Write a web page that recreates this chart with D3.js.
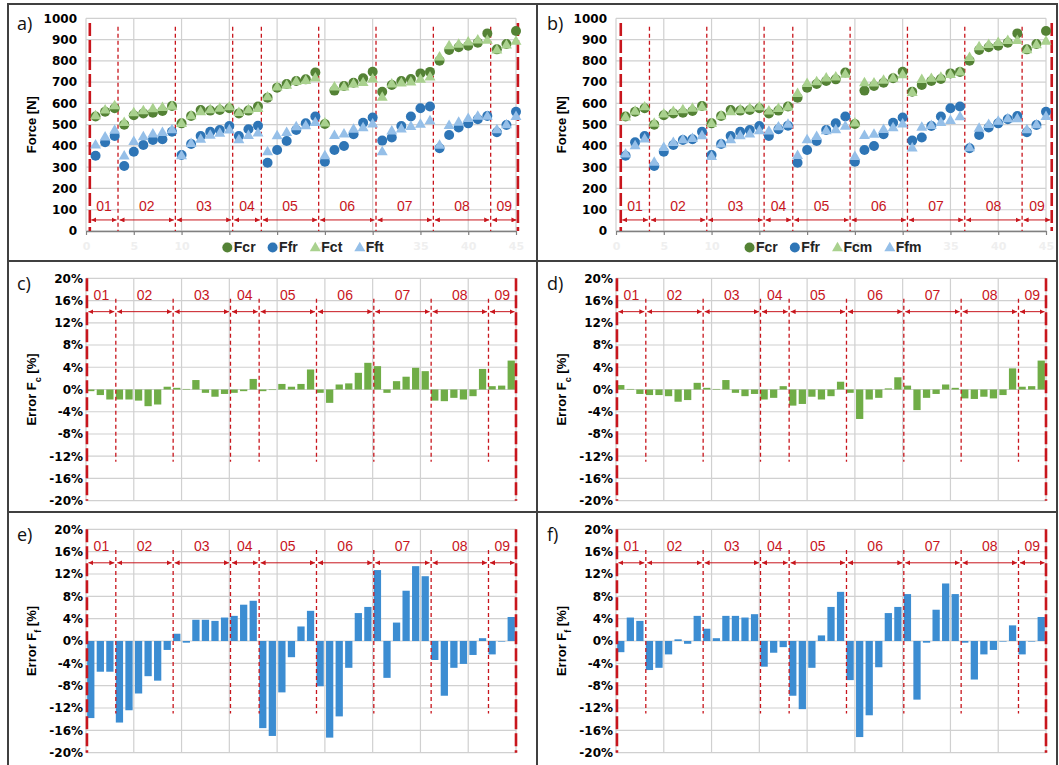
<!DOCTYPE html>
<html><head><meta charset="utf-8">
<script src="https://cdn.jsdelivr.net/npm/d3@7"></script>
<style>body{margin:0;background:#fff}</style>
</head><body>
<svg id="chart" width="1059" height="765"></svg>
<script>
// ---------------- DATA ----------------
const groupLabels = ["01","02","03","04","05","06","07","08","09"];
const groupBounds = [0,3,9,15,18,24,30,36,42,45];
const specimen = d3.range(1,46);
const xTicks = [0,5,10,15,20,25,30,35,40,45];
const forceTicks = [0,100,200,300,400,500,600,700,800,900,1000];
const errorTicks = [-20,-16,-12,-8,-4,0,4,8,12,16,20];

const Fcr = [538,561,577,500,544,553,556,564,588, 506,541,569,566,569,577,553,566,585, 627,674,691,705,713,745,503,660,682, 697,718,749,655,686,705,715,741,748, 801,851,864,871,885,929,854,879,940];
const Ffr = [354,417,447,306,373,404,428,431,467, 357,409,447,467,475,494,447,478,495, 321,381,423,475,506,538,326,381,400, 455,509,534,425,440,494,538,577,585, 389,451,487,506,525,541,464,498,561];
const Fct = [540,567,587,509,554,564,573,579,585, 504,540,559,569,576,582,556,568,574, 629,675,684,701,706,718,506,676,676, 689,696,713,627,690,694,699,712,723, 817,869,877,887,896,895,849,873,891];
const Fft = [403,440,472,351,419,442,455,462,474, 352,410,430,449,458,473,427,447,459, 371,446,462,489,493,509,352,447,454, 477,484,501,371,469,478,490,500,517, 402,495,510,527,538,538,475,498,537];
const Fcm = [534,561,582,505,549,560,568,575,581, 504,540,559,569,576,582,563,574,581, 645,692,700,718,722,735,506,695,694, 707,717,733,650,711,716,721,734,746, 814,865,875,885,894,894,850,874,891];
const Ffm = [361,399,431,322,391,414,427,433,446, 349,407,427,446,455,470,468,488,500, 353,427,443,470,475,491,349,447,453, 476,484,501,389,486,495,508,518,536, 390,482,499,514,526,526,475,498,537];

const errFcT = [-0.3,-1.0,-1.8,-1.8,-1.8,-2.0,-3.0,-2.7,0.5, 0.3,0.1,1.7,-0.6,-1.3,-0.8,-0.6,-0.3,1.9, -0.3,-0.1,1.0,0.5,1.0,3.6,-0.6,-2.4,0.9, 1.1,3.0,4.8,4.2,-0.6,1.5,2.3,3.9,3.3, -2.0,-2.1,-1.5,-1.8,-1.2,3.7,0.6,0.7,5.2];
const errFcM = [0.8,0.1,-0.8,-1.0,-1.0,-1.2,-2.2,-1.9,1.2, 0.3,0.1,1.7,-0.6,-1.2,-0.8,-1.8,-1.5,0.6, -2.9,-2.6,-1.3,-1.8,-1.2,1.4,-0.6,-5.3,-1.8, -1.5,0.2,2.2,0.7,-3.7,-1.5,-0.8,0.9,0.3, -1.6,-1.7,-1.3,-1.6,-1.0,3.8,0.5,0.6,5.2];
const errFfT = [-13.8,-5.5,-5.5,-14.6,-12.4,-9.4,-6.3,-7.1,-1.6, 1.3,-0.3,3.8,3.8,3.6,4.2,4.5,6.5,7.2, -15.6,-17.0,-9.2,-2.9,2.6,5.4,-8.1,-17.3,-13.5, -4.8,5.0,6.1,12.7,-6.6,3.3,9.0,13.4,11.6, -3.4,-9.8,-4.8,-4.1,-2.5,0.5,-2.4,-0.1,4.3];
const errFfM = [-2.0,4.2,3.6,-5.2,-4.8,-2.4,0.3,-0.5,4.5, 2.2,0.5,4.5,4.5,4.2,4.8,-4.6,-2.1,-1.1, -9.8,-12.2,-4.8,1.0,6.1,8.8,-7.0,-17.2,-13.3, -4.7,5.0,6.1,8.4,-10.5,-0.3,5.6,10.3,8.4, -0.3,-6.9,-2.4,-1.6,-0.1,2.8,-2.4,-0.1,4.3];

// ---------------- STYLE ----------------
const C = {
  darkGreen:"#548235", blue:"#2e75b6", lightGreen:"#a9d18e", lightBlue:"#95bfe8",
  barGreen:"#70ad47", barBlue:"#3c8dd2", red:"#c8161d", grid:"#d0d0d0", axis:"#808080", border:"#404040"
};
const TICKFONT = "DejaVu Sans, sans-serif";
const FONT = "Liberation Sans, Arial, sans-serif";
const PW = 430;

const svg = d3.select("#chart");
svg.append("rect").attr("width",1059).attr("height",765).attr("fill","#fff");
svg.append("defs").append("marker").attr("id","arr")
  .attr("viewBox","0 0 6 6").attr("refX",6).attr("refY",3)
  .attr("markerWidth",5).attr("markerHeight",5).attr("orient","auto-start-reverse")
  .append("path").attr("d","M0,0L6,3L0,6z").attr("fill",C.red);

// panel borders
const bd = svg.append("g").attr("stroke",C.border).attr("stroke-width",2).attr("fill","none");
bd.append("rect").attr("x",8).attr("y",4).attr("width",1049).attr("height",762);
bd.append("line").attr("x1",8).attr("x2",1057).attr("y1",261).attr("y2",261);
bd.append("line").attr("x1",8).attr("x2",1057).attr("y1",512).attr("y2",512);
bd.append("line").attr("x1",537).attr("x2",537).attr("y1",4).attr("y2",766);

function overlay(g, xLin, y, o){
  const divs = groupBounds.map((b,i)=> i===0 ? o.first : (i===groupBounds.length-1 ? o.last : b+o.off));
  [divs[0], divs[divs.length-1]].forEach(d=>{
    g.append("line").attr("x1",xLin(d)).attr("x2",xLin(d))
      .attr("y1",y(o.thickTop)).attr("y2",y(o.thickBot))
      .attr("stroke",C.red).attr("stroke-width",2.6).attr("stroke-dasharray","13,4");
  });
  divs.slice(1,-1).forEach(d=>{
    g.append("line").attr("x1",xLin(d)).attr("x2",xLin(d))
      .attr("y1",y(o.divTop)).attr("y2",y(o.divBot))
      .attr("stroke",C.red).attr("stroke-width",1.3).attr("stroke-dasharray","4,3");
  });
  groupLabels.forEach((lab,i)=>{
    const a = xLin(divs[i]), b = xLin(divs[i+1]);
    g.append("line").attr("x1",a+1.5).attr("x2",b-1.5).attr("y1",y(o.arrowY)).attr("y2",y(o.arrowY))
      .attr("stroke",C.red).attr("stroke-width",1)
      .attr("marker-start","url(#arr)").attr("marker-end","url(#arr)");
    g.append("text").attr("x",(a+b)/2).attr("y",y(o.labelY)).attr("text-anchor","middle")
      .attr("font-family",FONT).attr("font-size",14).attr("fill",C.red).text(lab);
  });
}

function panelLetter(x, y, t){
  svg.append("text").attr("x",x).attr("y",y).attr("font-family","Open Sans, sans-serif")
    .attr("font-size",18).attr("fill","#111").text(t);
}

function scatterPanel(x0, cSeries, fSeries, names, letter, divOpt){
  const top = 18.3, bot = 231;
  const g = svg.append("g");
  const x = d3.scaleLinear().domain([0,45]).range([x0, x0+PW]);
  const y = d3.scaleLinear().domain([0,1000]).range([bot, top]);
  g.append("g").selectAll("line").data(forceTicks).join("line")
    .attr("x1",x0).attr("x2",x0+PW).attr("y1",d=>y(d)).attr("y2",d=>y(d))
    .attr("stroke",C.grid).attr("stroke-width",1.2);
  g.append("g").selectAll("line").data(xTicks).join("line")
    .attr("x1",d=>x(d)).attr("x2",d=>x(d)).attr("y1",top).attr("y2",bot)
    .attr("stroke",C.grid).attr("stroke-width",1.2);
  const ax = g.append("g").attr("transform",`translate(0,${bot})`)
    .call(d3.axisBottom(x).tickValues(xTicks).tickSize(4).tickSizeOuter(0).tickPadding(7));
  ax.select(".domain").attr("stroke",C.axis).attr("stroke-width",1.5);
  ax.selectAll(".tick line").attr("stroke",C.axis).attr("stroke-width",1.2);
  ax.selectAll("text").attr("fill","#efefef").attr("font-family",TICKFONT).attr("font-weight","bold").attr("font-size",11);
  const ay = g.append("g").attr("transform",`translate(${x0},0)`)
    .call(d3.axisLeft(y).tickValues(forceTicks).tickSize(0).tickPadding(9).tickFormat(d3.format("d")));
  ay.select(".domain").remove();
  ay.selectAll("text").attr("fill","#000").attr("font-family",TICKFONT).attr("font-weight","bold").attr("font-size",12);
  g.append("text").attr("transform",`translate(${x0-50},${(top+bot)/2}) rotate(-90)`)
    .attr("text-anchor","middle").attr("font-family",FONT).attr("font-weight","bold").attr("font-size",13)
    .text("Force [N]");
  overlay(g, x, y, Object.assign({thickTop:978, thickBot:0, divTop:960, divBot:0, arrowY:52, labelY:95}, divOpt));
  const tri = d3.symbol(d3.symbolTriangle, 52);
  g.append("g").selectAll("circle").data(specimen).join("circle")
    .attr("cx",d=>x(d)).attr("cy",(d,i)=>y(Fcr[i])).attr("r",5).attr("fill",C.darkGreen);
  g.append("g").selectAll("circle").data(specimen).join("circle")
    .attr("cx",d=>x(d)).attr("cy",(d,i)=>y(Ffr[i])).attr("r",5).attr("fill",C.blue);
  g.append("g").selectAll("path").data(specimen).join("path")
    .attr("d",tri).attr("transform",(d,i)=>`translate(${x(d)},${y(cSeries[i])})`).attr("fill",C.lightGreen);
  g.append("g").selectAll("path").data(specimen).join("path")
    .attr("d",tri).attr("transform",(d,i)=>`translate(${x(d)},${y(fSeries[i])})`).attr("fill",C.lightBlue);
  const items = [
    {n:names[0], t:"c", c:C.darkGreen},{n:names[1], t:"c", c:C.blue},
    {n:names[2], t:"t", c:C.lightGreen},{n:names[3], t:"t", c:C.lightBlue}];
  const lg = g.append("g");
  let cx = 0; const ly = 252;
  items.forEach(it=>{
    if(it.t==="c") lg.append("circle").attr("cx",cx+5).attr("cy",ly-4.5).attr("r",5).attr("fill",it.c);
    else lg.append("path").attr("d",tri).attr("transform",`translate(${cx+5.5},${ly-4})`).attr("fill",it.c);
    const t = lg.append("text").attr("x",cx+11.5).attr("y",ly).attr("font-family",FONT)
      .attr("font-weight","bold").attr("font-size",14).attr("fill","#222").text(it.n);
    cx += 11.5 + t.node().getComputedTextLength() + 12;
  });
  const lw = cx - 12;
  lg.attr("transform",`translate(${x0 + PW/2 - lw/2 + 2},0)`);
  panelLetter(x0-69, 30, letter);
}

function barPanel(x0, top, bot, values, color, sub, letter){
  const g = svg.append("g");
  const x = d3.scaleBand().domain(specimen).range([x0, x0+PW]).paddingInner(0.24).paddingOuter(0.12);
  const xLin = d3.scaleLinear().domain([0,45]).range([x0, x0+PW]);
  const y = d3.scaleLinear().domain([-20,20]).range([bot, top]);
  g.append("g").selectAll("line").data(errorTicks).join("line")
    .attr("x1",x0).attr("x2",x0+PW).attr("y1",d=>y(d)).attr("y2",d=>y(d))
    .attr("stroke",C.grid).attr("stroke-width",1.2);
  g.append("g").selectAll("line").data(xTicks).join("line")
    .attr("x1",d=>xLin(d)).attr("x2",d=>xLin(d)).attr("y1",top).attr("y2",bot)
    .attr("stroke",C.grid).attr("stroke-width",1.2);
  const ay = g.append("g").attr("transform",`translate(${x0},0)`)
    .call(d3.axisLeft(y).tickValues(errorTicks).tickSize(0).tickPadding(3).tickFormat(d=>d+"%"));
  ay.select(".domain").remove();
  ay.selectAll("text").attr("fill","#000").attr("font-family",TICKFONT).attr("font-weight","bold").attr("font-size",12);
  g.append("g").selectAll("rect").data(specimen).join("rect")
    .attr("x",d=>x(d)).attr("width",x.bandwidth())
    .attr("y",(d,i)=>y(Math.max(0,values[i]))).attr("height",(d,i)=>Math.abs(y(values[i])-y(0)))
    .attr("fill",color);
  overlay(g, xLin, y, {first:0.1, last:45, off:0.12, thickTop:20, thickBot:-20, divTop:16.3, divBot:-13, arrowY:14, labelY:16.1});
  const t = g.append("text").attr("transform",`translate(${x0-50},${(top+bot)/2}) rotate(-90)`)
    .attr("text-anchor","middle").attr("font-family",FONT).attr("font-weight","bold").attr("font-size",13);
  t.append("tspan").text("Error F");
  t.append("tspan").attr("font-size",9).attr("baseline-shift","sub").text(sub);
  t.append("tspan").text(" [%]");
  panelLetter(x0-69, top+12, letter);
}

scatterPanel(86, Fct, Fft, ["Fcr","Ffr","Fct","Fft"], "a)", {first:0.4, last:45.2, off:0.35});
scatterPanel(616, Fcm, Ffm, ["Fcr","Ffr","Fcm","Ffm"], "b)", {first:0.5, last:45.6, off:0.5});
barPanel(86, 278.3, 500.7, errFcT, C.barGreen, "c", "c)");
barPanel(616, 278.3, 500.7, errFcM, C.barGreen, "c", "d)");
barPanel(86, 529.3, 752.7, errFfT, C.barBlue, "f", "e)");
barPanel(616, 529.3, 752.7, errFfM, C.barBlue, "f", "f)");
</script>
</body></html>
